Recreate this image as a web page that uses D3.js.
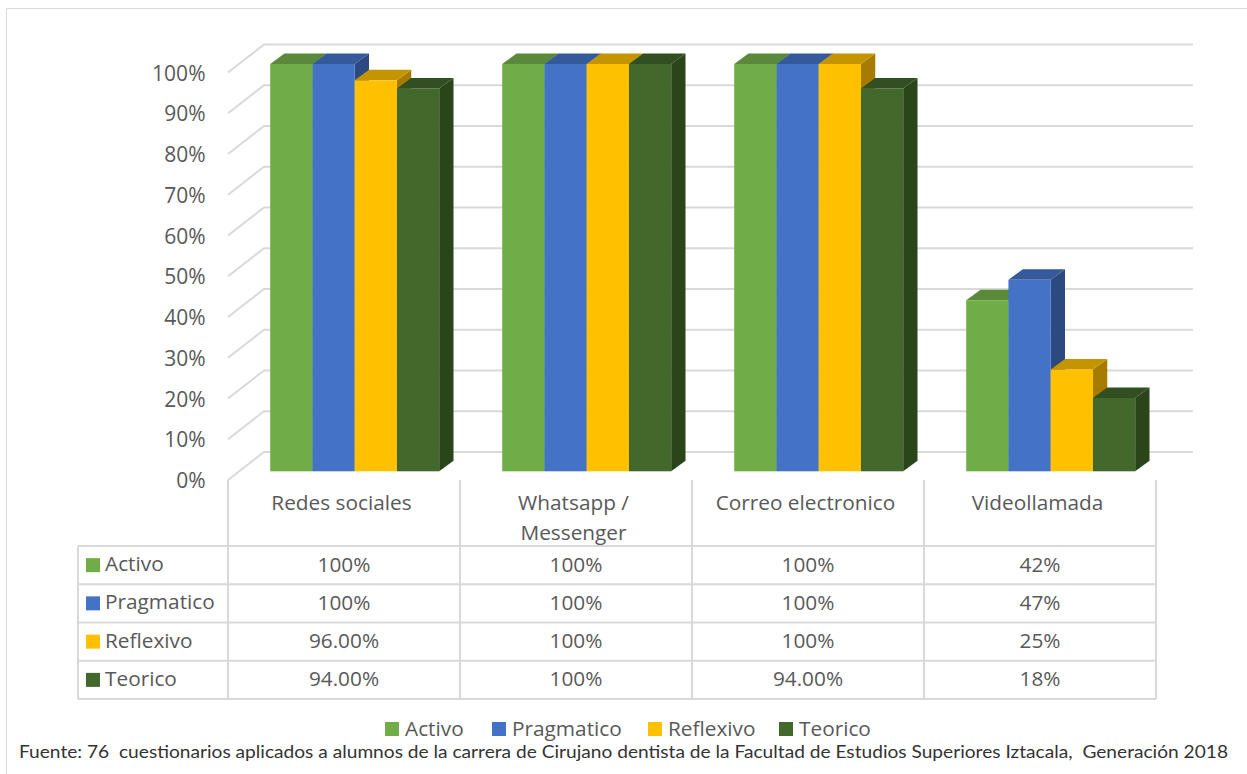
<!DOCTYPE html>
<html><head><meta charset="utf-8">
<script src="https://cdn.jsdelivr.net/npm/d3@7/dist/d3.min.js"></script>
<style>html,body{margin:0;padding:0;background:#fff}svg{display:block}text{font-family:"Open Sans",sans-serif;fill:#595959}</style>
</head><body><svg id="c" width="1247" height="774"></svg>
<script>
const categories = ["Redes sociales", "Whatsapp /|Messenger", "Correo electronico", "Videollamada"];
const seriesNames = ["Activo", "Pragmatico", "Reflexivo", "Teorico"];
const activo = [1, 1, 1, 0.42];
const pragmatico = [1, 1, 1, 0.47];
const reflexivo = [0.96, 1, 1, 0.25];
const teorico = [0.94, 1, 0.94, 0.18];
const activoLabels = ["100%", "100%", "100%", "42%"];
const pragmaticoLabels = ["100%", "100%", "100%", "47%"];
const reflexivoLabels = ["96.00%", "100%", "100%", "25%"];
const teoricoLabels = ["94.00%", "100%", "94.00%", "18%"];
const yTicks = [0, .1, .2, .3, .4, .5, .6, .7, .8, .9, 1];
const frontColors = ["#70AD47", "#4472C4", "#FFC000", "#43682B"];
const topColors = ["#5A8A39", "#355A9C", "#C49500", "#314F20"];
const sideColors = ["#4F7A32", "#2C4A80", "#A67C00", "#2A4519"];
const footer = "Fuente: 76  cuestionarios aplicados a alumnos de la carrera de Cirujano dentista de la Facultad de Estudios Superiores Iztacala,  Generación 2018";

const values = [activo, pragmatico, reflexivo, teorico];
const labels = [activoLabels, pragmaticoLabels, reflexivoLabels, teoricoLabels];
const svg = d3.select("#c");
const grid = "#D9D9D9";

// frame
svg.append("path").attr("d","M6.5 774V8.5H1247").attr("fill","none").attr("stroke","#DADADA").attr("stroke-width",1);

const yFront = d3.scaleLinear().domain([0,1]).range([471.3,64]);
const yWall = d3.scaleLinear().domain([0,1]).range([480,72.5]);
const yBack = d3.scaleLinear().domain([0,1]).range([452,44.5]);
const col = d3.scaleBand().domain(d3.range(4)).range([228,1156]);
const rowY = d3.scaleBand().domain(d3.range(4)).range([546,699]);
const xWallF = 228, xWallB = 264, xEnd = 1193;
const dx = 14.3, dy = 10.5;

// gridlines
svg.append("g").selectAll("path").data(yTicks).join("path")
  .attr("d",t=>`M${xWallF} ${yWall(t)}L${xWallB} ${yBack(t)}H${xEnd}`)
  .attr("fill","none").attr("stroke",grid).attr("stroke-width",2);

// y labels
svg.append("g").selectAll("text").data(yTicks).join("text")
  .attr("x",205.5).attr("y",t=>yWall(t)+8).attr("text-anchor","end")
  .attr("font-size",21).text(d3.format(".0%"));

// bars
const barBand = d3.scaleBand().domain(d3.range(4)).range([0,169]);
const barsG = svg.append("g");
categories.forEach((c,i)=>{
  const x0 = col(i)+42.2;
  values.forEach((vals,s)=>{
    const x = x0+barBand(s), w = barBand.bandwidth(), yT = yFront(vals[i]), yB = yFront(0);
    const g = barsG.append("g");
    g.append("path").attr("d",`M${x+w} ${yT}l${dx} ${-dy}V${yB-dy}l${-dx} ${dy}Z`).attr("fill",sideColors[s]);
    g.append("path").attr("d",`M${x} ${yT}l${dx} ${-dy}H${x+w+dx}l${-dx} ${dy}Z`).attr("fill",topColors[s]);
    g.append("rect").attr("x",x).attr("y",yT).attr("width",w).attr("height",yB-yT).attr("fill",frontColors[s]);
  });
});

// table lines
const t = svg.append("g").attr("stroke",grid).attr("stroke-width",2).attr("fill","none");
d3.range(5).forEach(i=>{
  const x = i<4?col(i):1156;
  t.append("path").attr("d",`M${x} 480V699`);
});
t.append("path").attr("d","M78 546V699");
[546,...d3.range(4).map(r=>rowY(r)+rowY.bandwidth())].forEach(y=>t.append("path").attr("d",`M78 ${y}H1156`));

// category labels
categories.forEach((c,i)=>{
  c.split("|").forEach((ln,k)=>{
    svg.append("text").attr("x",col(i)+col.bandwidth()/2-2.5).attr("y",510+k*30).attr("text-anchor","middle").attr("font-size",20.8).text(ln);
  });
});

// table rows
seriesNames.forEach((n,s)=>{
  const yc = rowY(s)+rowY.bandwidth()/2;
  svg.append("rect").attr("x",86).attr("y",yc-7).attr("width",14).attr("height",14).attr("fill",frontColors[s]);
  svg.append("text").attr("x",105).attr("y",yc+6).attr("font-size",20.8).text(n);
  labels[s].forEach((l,i)=>{
    svg.append("text").attr("x",col(i)+col.bandwidth()/2).attr("y",yc+6.5).attr("text-anchor","middle").attr("font-size",20.8).text(l);
  });
});

// legend
const legendX = [385,492,648,779];
seriesNames.forEach((n,s)=>{
  svg.append("rect").attr("x",legendX[s]).attr("y",722).attr("width",14).attr("height",14).attr("fill",frontColors[s]);
  svg.append("text").attr("x",legendX[s]+20).attr("y",736).attr("font-size",20.8).text(n);
});

// footer
svg.append("text").attr("x",19).attr("y",758).attr("textLength",1209).attr("lengthAdjust","spacingAndGlyphs")
  .style("white-space","pre").style("font-family","Lato, sans-serif").style("fill","#333333").attr("font-size",18).text(footer);
</script></body></html>
